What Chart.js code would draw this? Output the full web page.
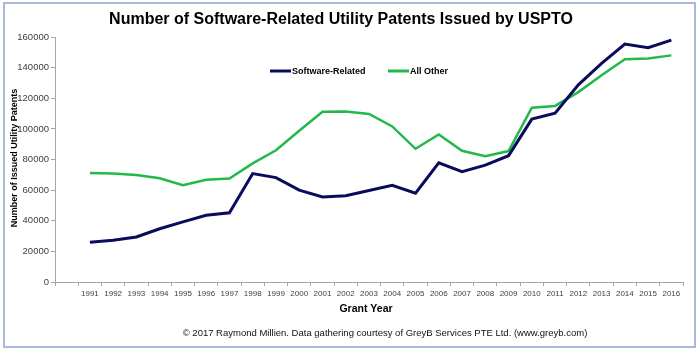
<!DOCTYPE html>
<html>
<head>
<meta charset="utf-8">
<script src="https://cdn.jsdelivr.net/npm/chart.js@4.4.0/dist/chart.umd.min.js"></script>
<style>
html,body{margin:0;padding:0;background:#fff;}
#wrap{width:700px;height:351px;position:relative;}
</style>
</head>
<body>
<div id="wrap"><canvas id="c" width="700" height="351"></canvas></div>
<script>
const years = ['1991','1992','1993','1994','1995','1996','1997','1998','1999','2000','2001','2002','2003','2004','2005','2006','2007','2008','2009','2010','2011','2012','2013','2014','2015','2016'];
const softwareRelated = [25900,27300,29400,34800,39300,43600,45200,70800,68200,60000,55500,56400,59800,63200,58000,77800,72000,76300,82500,106400,110200,128800,142800,155400,153000,158000];
const allOther = [71200,70900,69900,67700,63200,66800,67600,77500,86000,98800,111200,111300,109700,101600,87000,96300,85700,82200,85500,113800,115000,124000,135000,145500,146000,148000];
const yTicks = [0,20000,40000,60000,80000,100000,120000,140000,160000];

const titleText = 'Number of Software-Related Utility Patents Issued by USPTO';
const xTitle = 'Grant Year';
const yTitle = 'Number of Issued Utility Patents';
const footer = '\u00A9 2017 Raymond Millien. Data gathering courtesy of GreyB Services PTE Ltd. (www.greyb.com)';

const FONT = '"Liberation Sans", Arial, sans-serif';

const labels = [''].concat(years);

const decor = {
  id: 'decor',
  afterDraw(chart) {
    const ctx = chart.ctx;
    ctx.save();
    ctx.strokeStyle = '#a7b9dd';
    ctx.lineWidth = 2;
    ctx.strokeRect(4, 3, 691, 344);
    ctx.fillStyle = '#000';
    ctx.textAlign = 'center';
    ctx.textBaseline = 'middle';
    ctx.font = 'bold 16px ' + FONT;
    ctx.fillText(titleText, 341, 20);
    ctx.font = 'bold 10.5px ' + FONT;
    ctx.fillText(xTitle, 366, 309);
    ctx.font = '9.5px ' + FONT;
    ctx.fillStyle = '#111';
    ctx.fillText(footer, 385, 333);
    ctx.save();
    ctx.translate(15, 158);
    ctx.rotate(-Math.PI/2);
    ctx.font = 'bold 9px ' + FONT;
    ctx.fillStyle = '#000';
    ctx.fillText(yTitle, 0, 0);
    ctx.restore();
    const items = [{x:270, ds:chart.data.datasets[0]}, {x:388, ds:chart.data.datasets[1]}];
    ctx.font = 'bold 9px ' + FONT;
    ctx.textAlign = 'left';
    items.forEach(it => {
      ctx.strokeStyle = it.ds.borderColor;
      ctx.lineWidth = 3;
      ctx.beginPath();
      ctx.moveTo(it.x, 71);
      ctx.lineTo(it.x + 21, 71);
      ctx.stroke();
      ctx.fillStyle = '#000';
      ctx.fillText(it.ds.label, it.x + 22, 71.5);
    });
    ctx.restore();
  }
};

new Chart(document.getElementById('c'), {
  type: 'line',
  data: {
    labels: labels,
    datasets: [
      {label:'Software-Related', data:[null].concat(softwareRelated), borderColor:'#0b0b5c', borderWidth:3, pointRadius:0, tension:0, fill:false},
      {label:'All Other', data:[null].concat(allOther), borderColor:'#22b84a', borderWidth:2.5, pointRadius:0, tension:0, fill:false}
    ]
  },
  options: {
    responsive:false,
    animation:false,
    events:[],
    layout:{padding:{top:37, right:17, bottom:51, left:0}},
    plugins:{legend:{display:false}, title:{display:false}, tooltip:{enabled:false}},
    scales:{
      x:{
        offset:true,
        grid:{display:true, drawOnChartArea:false, offset:true, tickLength:4, color:'#a6a6a6'},
        border:{color:'#a6a6a6'},
        ticks:{autoSkip:false, maxRotation:0, minRotation:0, padding:3, color:'#404040', font:{family:FONT, size:8}},
        afterFit(s){ s.height = 18; }
      },
      y:{
        min:0, max:160000,
        afterBuildTicks(s){ s.ticks = yTicks.map(v => ({value:v})); },
        grid:{display:true, drawOnChartArea:false, tickLength:4, color:'#a6a6a6'},
        border:{color:'#a6a6a6'},
        ticks:{padding:2, color:'#404040', font:{family:FONT, size:9.5}, callback:(v) => String(v)},
        afterFit(s){ s.width = 55; }
      }
    }
  },
  plugins:[decor]
});
</script>
</body>
</html>
